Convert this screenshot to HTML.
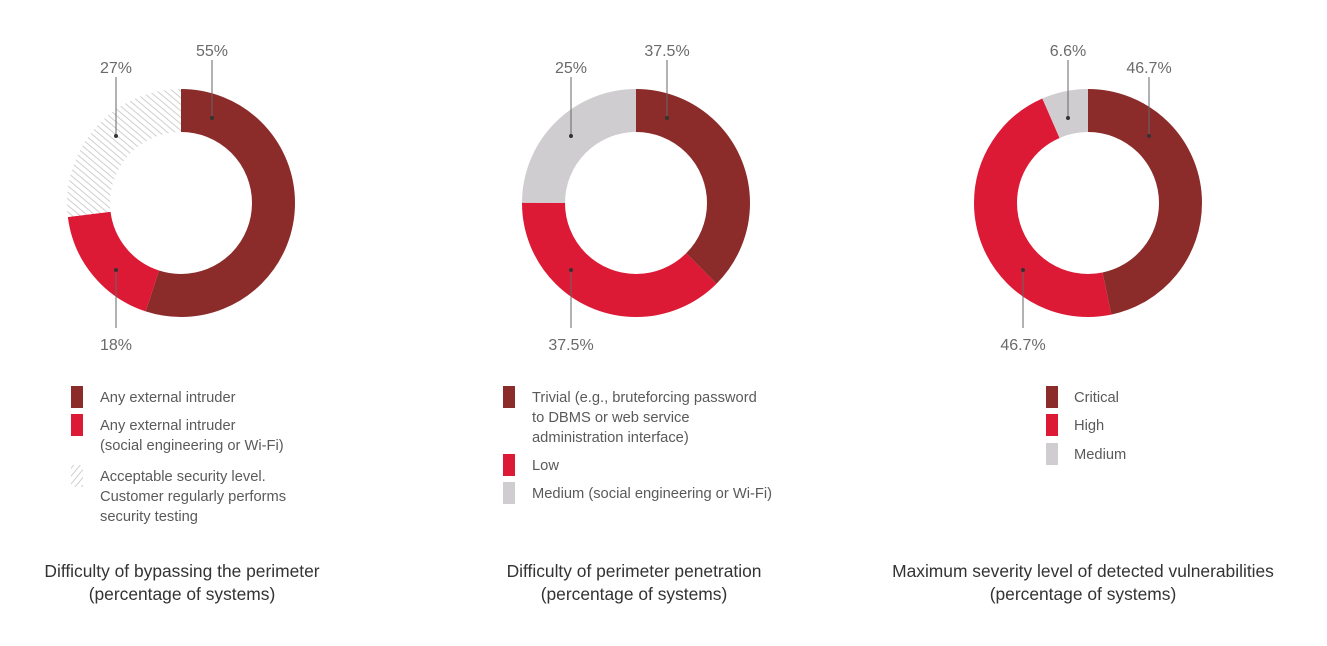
<!DOCTYPE html>
<html><head><meta charset="utf-8"><style>
body{margin:0;background:#fff;width:1327px;height:641px;overflow:hidden;font-family:"Liberation Sans",sans-serif}
</style></head><body>
<svg width="1327" height="641" viewBox="0 0 1327 641" xmlns="http://www.w3.org/2000/svg" font-family="Liberation Sans, sans-serif">
<defs>
<pattern id="h" width="5" height="5" patternUnits="userSpaceOnUse" patternTransform="rotate(40)">
<rect width="5" height="5" fill="#fff"/><line x1="0" y1="0" x2="0" y2="5" stroke="#c4c4c4" stroke-width="1.6"/>
</pattern>
</defs>
<g fill="none" stroke-width="43">
<g transform="translate(181,203) rotate(-90)">
<circle r="92.5" stroke="#8b2c2b" stroke-dasharray="319.65 581.19" stroke-dashoffset="0"/>
<circle r="92.5" stroke="#dc1a35" stroke-dasharray="104.61 581.19" stroke-dashoffset="-319.65"/>
<circle r="92.5" stroke="url(#h)" stroke-dasharray="156.93 581.19" stroke-dashoffset="-424.26"/>
</g>
<g transform="translate(636,203) rotate(-90)">
<circle r="92.5" stroke="#8b2c2b" stroke-dasharray="217.95 581.19" stroke-dashoffset="0"/>
<circle r="92.5" stroke="#dc1a35" stroke-dasharray="217.95 581.19" stroke-dashoffset="-217.95"/>
<circle r="92.5" stroke="#cfcdd0" stroke-dasharray="145.30 581.19" stroke-dashoffset="-435.89"/>
</g>
<g transform="translate(1088,203) rotate(-90)">
<circle r="92.5" stroke="#8b2c2b" stroke-dasharray="271.42 581.19" stroke-dashoffset="0"/>
<circle r="92.5" stroke="#dc1a35" stroke-dasharray="271.42 581.19" stroke-dashoffset="-271.42"/>
<circle r="92.5" stroke="#cfcdd0" stroke-dasharray="38.36 581.19" stroke-dashoffset="-542.84"/>
</g>
</g>
<g stroke="#666" stroke-width="1">
<line x1="212" y1="60" x2="212" y2="118"/><line x1="116" y1="77" x2="116" y2="136"/><line x1="116" y1="270" x2="116" y2="328"/>
<line x1="667" y1="60" x2="667" y2="118"/><line x1="571" y1="77" x2="571" y2="136"/><line x1="571" y1="270" x2="571" y2="328"/>
<line x1="1068" y1="60" x2="1068" y2="118"/><line x1="1149" y1="77" x2="1149" y2="136"/><line x1="1023" y1="270" x2="1023" y2="328"/>
</g>
<g fill="#333">
<circle cx="212" cy="118" r="2"/><circle cx="116" cy="136" r="2"/><circle cx="116" cy="270" r="2"/>
<circle cx="667" cy="118" r="2"/><circle cx="571" cy="136" r="2"/><circle cx="571" cy="270" r="2"/>
<circle cx="1068" cy="118" r="2"/><circle cx="1149" cy="136" r="2"/><circle cx="1023" cy="270" r="2"/>
</g>
<g fill="#6a6a6a" font-size="16" text-anchor="middle">
<text x="212" y="56">55%</text><text x="116" y="73">27%</text><text x="116" y="350">18%</text>
<text x="667" y="56">37.5%</text><text x="571" y="73">25%</text><text x="571" y="350">37.5%</text>
<text x="1068" y="56">6.6%</text><text x="1149" y="73">46.7%</text><text x="1023" y="350">46.7%</text>
</g>
<rect x="71" y="386" width="12" height="22" fill="#8b2c2b"/>
<rect x="71" y="414" width="12" height="22" fill="#dc1a35"/>
<rect x="71" y="465" width="12" height="22" fill="url(#h)"/>
<rect x="503" y="386" width="12" height="22" fill="#8b2c2b"/>
<rect x="503" y="454" width="12" height="22" fill="#dc1a35"/>
<rect x="503" y="482" width="12" height="22" fill="#cfcdd0"/>
<rect x="1046" y="386" width="12" height="22" fill="#8b2c2b"/>
<rect x="1046" y="414" width="12" height="22" fill="#dc1a35"/>
<rect x="1046" y="443" width="12" height="22" fill="#cfcdd0"/>
<g fill="#5a5a5a" font-size="14.7">
<text x="100" y="402">Any external intruder</text>
<text x="100" y="430">Any external intruder</text>
<text x="100" y="450">(social engineering or Wi-Fi)</text>
<text x="100" y="481">Acceptable security level.</text>
<text x="100" y="501">Customer regularly performs</text>
<text x="100" y="521">security testing</text>
<text x="532" y="402">Trivial (e.g., bruteforcing password</text>
<text x="532" y="422">to DBMS or web service</text>
<text x="532" y="442">administration interface)</text>
<text x="532" y="470">Low</text>
<text x="532" y="498">Medium (social engineering or Wi-Fi)</text>
<text x="1074" y="402">Critical</text>
<text x="1074" y="430">High</text>
<text x="1074" y="459">Medium</text>
</g>
<g fill="#333" font-size="17.4" text-anchor="middle">
<text x="182" y="577">Difficulty of bypassing the perimeter</text>
<text x="182" y="600">(percentage of systems)</text>
<text x="634" y="577">Difficulty of perimeter penetration</text>
<text x="634" y="600">(percentage of systems)</text>
<text x="1083" y="577">Maximum severity level of detected vulnerabilities</text>
<text x="1083" y="600">(percentage of systems)</text>
</g>
</svg>
</body></html>
